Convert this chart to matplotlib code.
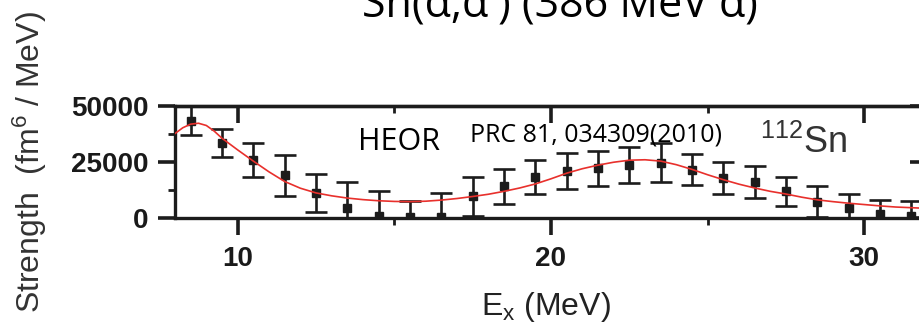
import matplotlib
matplotlib.use("Agg")
import matplotlib.pyplot as plt
from matplotlib.ticker import MultipleLocator

# Measured strength distribution (Ex in MeV, strength in fm^6/MeV)
energy = [8.5, 9.5, 10.5, 11.5, 12.5, 13.5, 14.5, 15.5, 16.5, 17.5, 18.5, 19.5,
          20.5, 21.5, 22.5, 23.5, 24.5, 25.5, 26.5, 27.5, 28.5, 29.5, 30.5, 31.5]
strength = [43400, 33600, 26100, 19100, 11100, 4400, 900, 600, 500, 9600, 14100, 18200,
            20900, 22100, 23600, 24600, 21600, 17900, 16100, 11900, 7300, 4400, 1800, 900]
strength_err = [6400, 6200, 7600, 9200, 8600, 11800, 11000, 7200, 10600, 8800, 7900, 7500,
                8100, 7900, 8100, 8700, 6900, 7100, 7000, 6600, 6900, 6400, 6300, 6800]

# Fitted curve sampled along Ex
fit_energy = [8.0, 8.25, 8.5, 8.75, 9.0, 9.25, 9.5, 9.75, 10.0, 10.5, 11.0, 11.5,
              12.0, 12.5, 13.0, 13.5, 14.0, 14.5, 15.0, 15.5, 16.0, 16.5, 17.0, 17.5,
              18.0, 18.5, 19.0, 19.5, 20.0, 20.5, 21.0, 21.5, 22.0, 22.5, 23.0, 23.5,
              24.0, 24.5, 25.0, 25.5, 26.0, 26.5, 27.0, 27.5, 28.0, 28.5, 29.0, 29.5,
              30.0, 30.5, 31.0, 31.5, 32.0]
fit_strength = [37700, 40300, 41900, 42300, 41300, 38800, 35600, 33000, 30400, 25400, 20600, 16300,
                13300, 11200, 9900, 8900, 8200, 7700, 7400, 7300, 7500, 8000, 8700, 9600,
                10600, 11900, 13400, 15200, 17500, 20000, 22000, 23600, 24900, 25800, 26000, 25400,
                23800, 21700, 19300, 17100, 15100, 13400, 11900, 10700, 9300, 8100, 7300, 6600,
                6000, 5400, 4900, 4600, 4300]

x_major = [10, 20, 30]
y_major = [0, 25000, 50000]

plt.rcParams["font.family"] = ["Liberation Sans", "DejaVu Sans"]
plt.rcParams["mathtext.fontset"] = "custom"
plt.rcParams["mathtext.rm"] = "Liberation Sans"
plt.rcParams["mathtext.it"] = "Liberation Sans:italic"
plt.rcParams["mathtext.bf"] = "Liberation Sans:bold"

ink = "#1c1c1c"

fig = plt.figure(figsize=(9.2, 3.3), dpi=100)
ax = fig.add_axes([175 / 920, 1 - 218 / 330, 752 / 920, 112 / 330])

ax.errorbar(energy, strength, yerr=strength_err, fmt="s", color=ink, ms=5.5,
            capsize=8, elinewidth=1.9, capthick=1.9, zorder=3)
ax.plot(fit_energy, fit_strength, color="#e8302c", lw=1.2, zorder=4)

ax.set_xlim(8, 32)
ax.set_ylim(0, 50000)
ax.set_xticks(x_major)
ax.set_yticks(y_major)
ax.xaxis.set_minor_locator(MultipleLocator(5))
ax.yaxis.set_minor_locator(MultipleLocator(12500))

ax.tick_params(which="major", direction="out", length=12, width=2.6, color=ink,
               labelsize=20, labelcolor="#1a1a1a", pad=7)
ax.tick_params(axis="x", which="major", pad=8)
ax.tick_params(which="minor", direction="out", length=5, width=2, color=ink)
for lab in ax.get_xticklabels() + ax.get_yticklabels():
    lab.set_fontweight("bold")

for sp in ax.spines.values():
    sp.set_linewidth(2.4)
    sp.set_color(ink)

# mirrored axes with inward ticks on top and right
top = ax.secondary_xaxis("top")
top.set_xticks(x_major)
top.xaxis.set_minor_locator(MultipleLocator(5))
top.tick_params(which="major", direction="in", length=12, width=2.6, color=ink, labeltop=False)
top.tick_params(which="minor", direction="in", length=5, width=2, color=ink)
right = ax.secondary_yaxis("right")
right.set_yticks(y_major)
right.yaxis.set_minor_locator(MultipleLocator(12500))
right.tick_params(which="major", direction="in", length=12, width=2.6, color=ink, labelright=False)
right.tick_params(which="minor", direction="in", length=5, width=2, color=ink)
for sec in (top, right):
    for sp in sec.spines.values():
        sp.set_linewidth(2.4)
        sp.set_color(ink)

ax.set_xlabel(r"E$_{\mathrm{x}}$ (MeV)", fontsize=23, color="#222222")
ax.xaxis.set_label_coords((545.5 - 175) / 752, -(315 - 218) / 112)
ax.xaxis.label.set_verticalalignment("baseline")

ax.set_ylabel(r"Strength  (fm$^{6}$ / MeV)", fontsize=23, color="#333333")
ax.yaxis.set_label_coords((30 - 175) / 752, 0.5)
ax.yaxis.label.set_verticalalignment("center")

ax.text((358 - 175) / 752, (218 - 150) / 112, "HEOR", transform=ax.transAxes,
        family=["Open Sans", "DejaVu Sans"], fontsize=22, va="baseline", color="black")
ax.text((470 - 175) / 752, (218 - 141.7) / 112, "PRC 81, 034309(2010)", transform=ax.transAxes,
        family=["Open Sans", "DejaVu Sans"], fontsize=18, va="baseline", color="black")
ax.text((760 - 175) / 752, (218 - 153) / 112, r"$^{112}$Sn", transform=ax.transAxes,
        fontsize=26, va="baseline", color="#333333")

fig.text(537.5 / 920, 1 - 17 / 330, "¹¹²Sn(α,α′) (386 MeV α)", ha="center", va="baseline",
         family=["Open Sans", "DejaVu Sans"], fontsize=31, color="black")

fig.savefig("out.png", dpi=100)
